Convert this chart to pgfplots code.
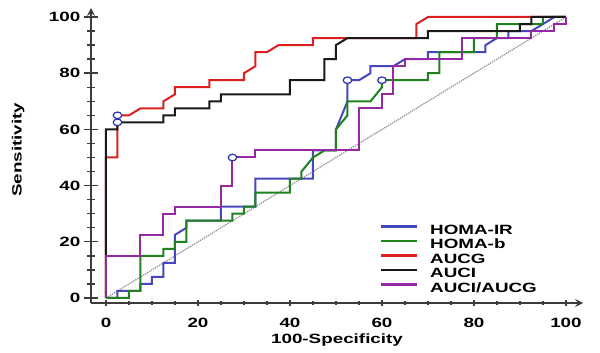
\documentclass[border=0pt]{standalone}
\usepackage{fontspec}
\setmainfont{Liberation Sans}[FakeStretch=1.4]
\usepackage{pgfplots}
\pgfplotsset{compat=1.18}
\definecolor{cblue}{RGB}{70,70,190}
\definecolor{cgreen}{RGB}{30,130,30}
\definecolor{cred}{RGB}{220,30,30}
\definecolor{cblack}{RGB}{25,25,25}
\definecolor{cpurple}{RGB}{150,40,165}
\definecolor{axcol}{RGB}{60,60,60}
\definecolor{circ}{RGB}{40,50,170}
\begin{document}
\begin{tikzpicture}
\path[use as bounding box] (-91bp,-50bp) rectangle (509bp,303bp);
\pgfplotsset{
  base/.style={
    at={(0bp,0bp)}, anchor=south west,
    scale only axis, width=492bp, height=295bp,
    xmin=-3.26, xmax=103.7, ymin=-1.78, ymax=103.2,
    axis line style={-, line width=2.4bp, draw=axcol},
    tick align=inside, tick style={line width=1.4bp, draw=axcol},
    font=\fontsize{13.5}{15}\selectfont\bfseries,
    /pgf/number format/assume math mode=true,
  }
}
\begin{axis}[base,
  axis y line=left, axis x line=none,
  ytick={0,20,...,100}, minor y tick num=3,
  major tick length=15bp, minor tick length=8bp,
  yticklabel style={anchor=east, xshift=-3bp, inner sep=0pt},
  ylabel={Sensitivity},
  ylabel style={at={(axis description cs:-0.148,0.519)}, anchor=center},
]
\addplot[gray!85, densely dotted, line width=1.3bp] coordinates {(0,0) (100,100)};
\end{axis}
\begin{axis}[base,
  axis x line=bottom, axis y line=none,
  xtick={0,20,...,100}, minor x tick num=3,
  major tick length=6bp, minor tick length=3.5bp,
  xticklabel style={anchor=center, yshift=-17bp},
  xlabel={100-Specificity},
  xlabel style={at={(axis description cs:0.5,-0.125)}, anchor=center},
  legend cell align=left,
  legend style={at={(axis description cs:0.587,0.2712)}, anchor=north west,
    draw=none, fill=none, inner sep=0pt, row sep=0pt,
    nodes={inner sep=1bp, text height=10bp, text depth=2.5bp},
    font=\fontsize{13.5}{15}\selectfont\bfseries},
  legend image code/.code={\draw[#1, line width=2.2bp] (0bp,4bp) -- (36bp,4bp);},
  /tikz/every odd column/.append style={column sep=11bp},
]
\addplot[cblue, line width=2bp] coordinates {(0,0) (2.5,0) (2.5,2.5) (7.5,2.5) (7.5,5) (10,5) (10,7.5) (12.5,7.5) (12.5,12.5) (15,12.5) (15,22.5) (17.5,25) (17.5,27.5) (25,27.5) (25,32.5) (32.5,32.5) (32.5,42.5) (45,42.5) (45,52.5) (50,52.5) (50,60) (52.5,70) (52.5,77.5) (55,77.5) (57.5,80) (57.5,82.5) (62.5,82.5) (65,85) (70,85) (70,87.5) (82.5,87.5) (82.5,90) (85,92.5) (87.5,92.5) (87.5,95) (92.5,95) (97.5,100) (100,100)};
\addlegendentry{HOMA-IR}
\addplot[cgreen, line width=2bp] coordinates {(0,0) (5,0) (5,2.5) (7.5,2.5) (7.5,15) (12.5,15) (12.5,17.5) (15,17.5) (15,20) (17.5,20) (17.5,27.5) (27.5,27.5) (27.5,30) (30,30) (30,32.5) (32.5,32.5) (32.5,37.5) (40,37.5) (40,42.5) (42.5,42.5) (42.5,45) (45,50) (47.5,52.5) (50,52.5) (50,60) (52.5,65) (52.5,70) (57.5,70) (60,75) (60,77.5) (70,77.5) (70,80) (72.5,80) (72.5,87.5) (80,87.5) (80,92.5) (85,92.5) (85,97.5) (95,97.5) (95,100) (100,100)};
\addlegendentry{HOMA-b}
\addplot[cred, line width=2bp] coordinates {(0,0) (0,50) (2.5,50) (2.5,65) (5,65) (7.5,67.5) (12.5,67.5) (12.5,70) (15,72.5) (15,75) (22.5,75) (22.5,77.5) (30,77.5) (30,80) (32.5,82.5) (32.5,87.5) (35,87.5) (37.5,90) (45,90) (45,92.5) (67.5,92.5) (67.5,97.5) (70,100) (100,100)};
\addlegendentry{AUCG}
\addplot[cblack, line width=2bp] coordinates {(0,0) (0,60) (2.5,60) (2.5,62.5) (12.5,62.5) (12.5,65) (15,65) (15,67.5) (22.5,67.5) (22.5,70) (25,70) (25,72.5) (40,72.5) (40,77.5) (47.5,77.5) (47.5,85) (50,85) (50,90) (52.5,92.5) (70,92.5) (70,95) (90,95) (90,97.5) (92.5,97.5) (92.5,100) (100,100)};
\addlegendentry{AUCI}
\addplot[cpurple, line width=2bp] coordinates {(0,0) (0,15) (7.5,15) (7.5,22.5) (12.5,22.5) (12.5,30) (15,30) (15,32.5) (25,32.5) (25,40) (27.5,40) (27.5,50) (32.5,50) (32.5,52.5) (55,52.5) (55,67.5) (60,67.5) (60,72.5) (62.5,72.5) (62.5,82.5) (65,82.5) (65,85) (77.5,85) (77.5,92.5) (92.5,92.5) (92.5,95) (97.5,95) (97.5,97.5) (100,97.5) (100,100)};
\addlegendentry{AUCI/AUCG}
\addplot[only marks, mark=*, mark size=3.3bp, mark options={xscale=1.3, draw=circ, fill=white, line width=1.2bp}, forget plot] coordinates {(2.5,65) (2.5,62.5) (27.5,50) (52.5,77.5) (60,77.5)};
\end{axis}
\end{tikzpicture}
\end{document}
